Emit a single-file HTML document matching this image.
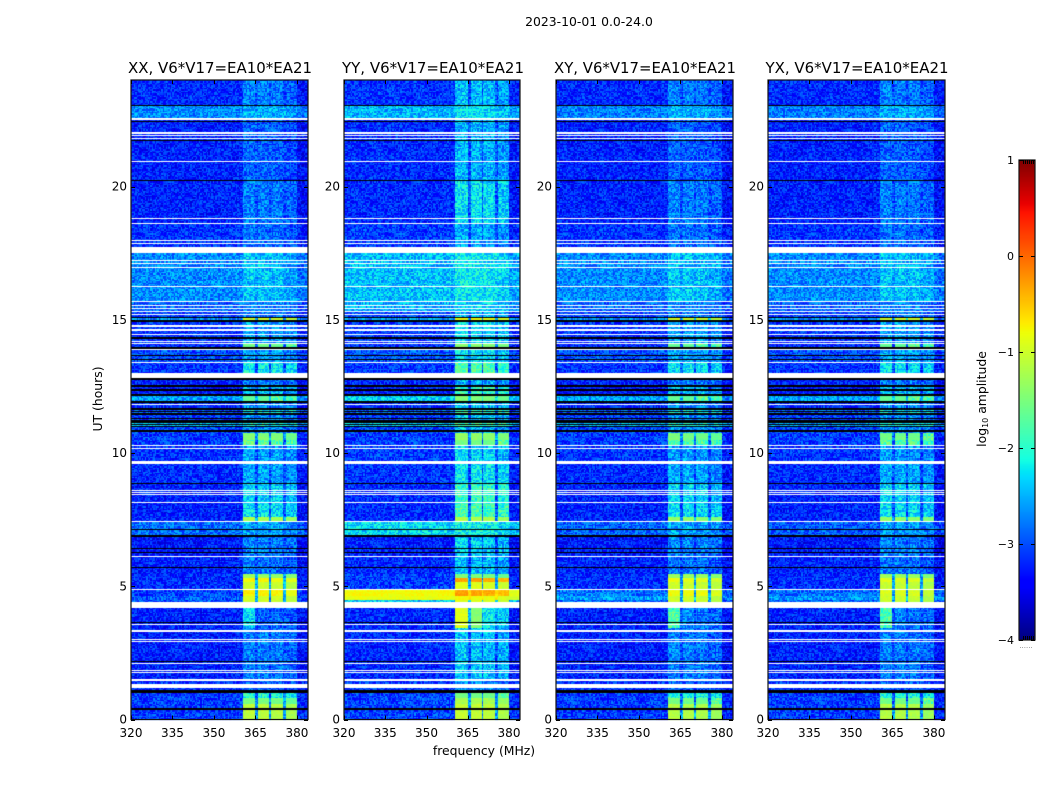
<!DOCTYPE html>
<html lang="en">
<head>
<meta charset="utf-8">
<title>2023-10-01 0.0-24.0</title>
<style>
html,body{margin:0;padding:0;background:#fff;width:1050px;height:800px;overflow:hidden}
#chart{position:relative;width:1050px;height:800px}
canvas{position:absolute;left:0;top:0}
svg{position:absolute;left:0;top:0}
text{font-family:"DejaVu Sans","Liberation Sans",sans-serif;fill:#000}
</style>
</head>
<body>
<div id="chart">
<canvas id="heat" width="1050" height="800"></canvas>
<svg id="overlay" width="1050" height="800" viewBox="0 0 1050 800">
  <text x="589" y="26" font-size="12.4" text-anchor="middle">2023-10-01 0.0-24.0</text>
  <text x="220" y="73" font-size="15.5" text-anchor="middle" textLength="184" lengthAdjust="spacingAndGlyphs">XX, V6*V17=EA10*EA21</text>
  <text x="433" y="73" font-size="15.5" text-anchor="middle" textLength="182" lengthAdjust="spacingAndGlyphs">YY, V6*V17=EA10*EA21</text>
  <text x="645" y="73" font-size="15.5" text-anchor="middle" textLength="182" lengthAdjust="spacingAndGlyphs">XY, V6*V17=EA10*EA21</text>
  <text x="857" y="73" font-size="15.5" text-anchor="middle" textLength="183" lengthAdjust="spacingAndGlyphs">YX, V6*V17=EA10*EA21</text>
  <text x="484" y="755" font-size="12.4" text-anchor="middle">frequency (MHz)</text>
  <text transform="translate(102,399) rotate(-90)" font-size="12.4" text-anchor="middle">UT (hours)</text>
  <text transform="translate(986,399) rotate(-90)" font-size="12.4" text-anchor="middle">log<tspan font-size="8" dy="2">10</tspan><tspan dy="-2"> amplitude</tspan></text>
  <text x="1026" y="648" font-size="7" text-anchor="middle" style="fill:#777">......</text>
</svg>
</div>
<script>
// Axis tick values and panel names
const panelNames = ['xx', 'yy', 'xy', 'yx'];
const freqTicks = [320, 335, 350, 365, 380];
const hourTicks = [0, 5, 10, 15, 20];
const colorbarTicks = [-4, -3, -2, -1, 0, 1];

// Observation limits and colour range
const freqRange = [320, 384];
const hourRange = [0, 24];
const amplitudeRange = [-4, 1];

// Spectral windows with signal, in MHz
const subbandStart = [360.7, 365.8, 370.7, 375.8];
const subbandEnd = [365.2, 370.1, 375.1, 380];
const subbandTilt = [0.05, 0.03, 0, -0.1];

// UT band edges in hours; each series below has one log10 amplitude per band
const bandEdges = [0,.62,.82,1.05,1.5,3.43,4.18,4.48,4.66,4.86,5.15,5.32,5.47,6.1,6.89,7.41,7.6,8.12,8.87,9.59,10.31,10.52,10.75,11.01,11.17,11.44,11.59,11.9,12.18,12.56,13,13.38,13.9,14.09,14.96,15.09,15.29,15.7,17.5,18.6,20.24,22.5,23.06,24];

const backgroundXX = [
-3.1,-3.1,-3.1,-3.15,-3.25,-3.25,-3.0,-2.95,-3.05,-3.2,
-3.2,-3.2,-3.25,-3.3,-2.85,-3.25,-3.25,-3.25,-3.2,-3.15,
-3.1,-3.1,-3.05,-2.5,-3.1,-2.95,-3.2,-2.6,-3.3,-3.25,
-3.15,-3.0,-3.2,-3.15,-2.7,-3.1,-2.9,-2.7,-3.15,-3.25,
-3.25,-2.7,-3.2];
const backgroundYY = [
-3.05,-3.05,-3.05,-3.1,-3.2,-3.2,-2.4,-0.85,-0.78,-3.1,
-3.1,-3.1,-3.2,-3.25,-2.3,-3.2,-3.2,-3.2,-3.15,-3.1,
-3.1,-3.1,-3.05,-2.4,-3.1,-2.9,-3.2,-2.35,-3.25,-3.2,
-3.1,-2.95,-3.15,-3.1,-2.6,-3.05,-2.55,-2.45,-3.1,-3.2,
-3.2,-2.5,-3.15];
const backgroundXY = [
-3.1,-3.1,-3.1,-3.15,-3.25,-3.25,-2.9,-2.6,-2.8,-3.2,
-3.2,-3.2,-3.25,-3.3,-2.9,-3.25,-3.25,-3.25,-3.2,-3.15,
-3.1,-3.1,-3.05,-2.5,-3.1,-2.95,-3.2,-2.6,-3.3,-3.25,
-3.15,-3.0,-3.2,-3.15,-2.7,-3.1,-2.9,-2.7,-3.15,-3.25,
-3.25,-2.75,-3.2];
const backgroundYX = [
-3.1,-3.1,-3.1,-3.15,-3.25,-3.25,-2.9,-2.65,-2.85,-3.2,
-3.2,-3.2,-3.25,-3.3,-2.95,-3.25,-3.25,-3.25,-3.2,-3.15,
-3.1,-3.1,-3.05,-2.6,-3.1,-2.95,-3.2,-2.6,-3.3,-3.25,
-3.15,-3.0,-3.2,-3.15,-2.7,-3.1,-2.9,-2.7,-3.15,-3.25,
-3.25,-2.75,-3.2];

const signalXX = [
-1.15,-1.55,-2.1,-2.95,-2.8,[-2.3,-2.9,-2.9,-2.95],-1.05,-1.0,-0.75,-1.05,
-0.8,-1.35,-2.85,-2.75,-2.6,-1.25,-2.3,-2.35,-2.6,-2.6,
-1.75,-1.5,-2.7,-2.1,-2.7,-2.2,-2.7,-1.7,-2.5,-2.8,
-2.2,-2.6,-1.6,-2.6,-1.0,-2.8,-2.75,-2.45,-2.85,-2.8,
-2.95,-2.55,-2.8];
const signalYY = [
-1.1,-1.25,-1.6,-2.7,-2.45,[-0.9,-1.45,-2.2,-2.4],-0.95,-0.85,-0.35,-0.95,
-0.35,-1.55,-2.5,-2.4,-2.2,-1.2,-1.85,-1.95,-2.25,-2.35,
-1.6,-1.4,-2.5,-1.8,-2.4,-1.9,-2.4,-1.5,-1.9,-2.55,
-1.8,-2.3,-1.45,-2.3,-0.85,-2.5,-2.4,-2.25,-2.6,-2.3,
-2.55,-2.3,-2.5];
const signalXY = [
-1.2,-1.6,-2.1,-2.95,-2.8,[-1.8,-2.7,-2.8,-2.9],-1.05,-1.05,-0.85,-1.05,
-0.9,-1.35,-2.85,-2.75,-2.6,-1.4,-2.3,-2.35,-2.6,-2.65,
-1.8,-1.55,-2.7,-2.1,-2.7,-2.2,-2.7,-1.7,-2.5,-2.8,
-2.3,-2.6,-1.7,-2.6,-1.0,-2.8,-2.75,-2.45,-2.85,-2.8,
-2.95,-2.55,-2.8];
const signalYX = [
-1.2,-1.6,-2.1,-2.95,-2.8,[-1.8,-2.7,-2.8,-2.9],-1.1,-1.05,-0.95,-1.1,
-0.95,-1.35,-2.85,-2.75,-2.65,-1.4,-2.3,-2.35,-2.6,-2.65,
-1.8,-1.6,-2.7,-2.15,-2.7,-2.25,-2.7,-1.7,-2.5,-2.8,
-2.3,-2.6,-1.7,-2.6,-1.0,-2.8,-2.75,-2.45,-2.85,-2.8,
-2.95,-2.55,-2.8];

// Flagged (no data) intervals drawn white: start hour, end hour
const flagStart = [1.18,1.44,1.74,1.82,2.08,2.89,2.98,3.28,3.55,4.2,4.86,6.1,7.41,8.12,8.42,8.5,8.58,9.59,10.15,10.26,11.8,12.81,13.38,13.86,14.09,14.17,14.43,14.58,14.73,15.18,15.29,15.4,15.52,15.67,16.23,16.94,17.09,17.2,17.5,17.84,17.95,18.59,18.78,20.92,21.78,21.89,21.99,22.5];
const flagEnd = [1.33,1.52,1.78,1.86,2.12,2.93,3.02,3.36,3.59,4.42,4.9,6.14,7.45,8.16,8.46,8.54,8.62,9.7,10.19,10.3,11.84,13.0,13.42,13.9,14.13,14.21,14.47,14.65,14.8,15.22,15.33,15.44,15.56,15.71,16.27,16.98,17.13,17.24,17.73,17.88,17.99,18.63,18.82,20.96,21.82,21.93,22.03,22.57];

// Zero-amplitude UT records drawn black, centre hour
const zeroHours = [1.09,1.12,2.21,3.67,5.71,6.27,6.45,7.14,8.87,10.31,11.01,11.09,11.17,11.3,11.59,13.53,13.69,13.9,15.09,20.24,21.74,22.47,23.06];
// Wider zero-amplitude records, centre hour
const wideZeroHours = [0.38,1.05,6.89,10.81,11.22,11.46,11.65,11.91,12.16,12.36,12.53,12.78,13.94,14.32,14.95];

// Hand-typed speckle offsets: these stand in for per-cell receiver noise, which is not readable cell by cell
const speckle = [.31,-.22,.08,-.35,.17,.39,-.12,-.28,.24,-.05,.34,-.38,.11,.02,-.19,.28,-.31,.15,-.08,.36,-.26,.05,.21,-.37,.13,-.15,.33,-.03,-.29,.19,.38,-.24,.07,-.33,.26,-.1,.14,-.36,.3,.01,-.21,.23,-.39,.09,.35,-.17,-.27,.18,.04,-.32,.27,-.07,.37,-.2,.12,-.34,.22,-.13,.29,-.25,.06];

// Matplotlib "jet" colormap anchors
const jetRedAt = [0,.35,.66,.89,1];
const jetRedValue = [0,0,1,1,.5];
const jetGreenAt = [0,.125,.375,.64,.91,1];
const jetGreenValue = [0,0,1,1,0,0];
const jetBlueAt = [0,.11,.34,.65,1];
const jetBlueValue = [.5,1,1,0,0];

const panelLeft = [131, 344, 556, 768];
const panelRight = [308, 520, 733, 945];
const plotTop = 80, plotBottom = 719.5;
const barLeft = 1019, barRight = 1035, barTop = 160, barBottom = 640;
const backgrounds = [backgroundXX, backgroundYY, backgroundXY, backgroundYX];
const signals = [signalXX, signalYY, signalXY, signalYX];

function xScale(p, f) { return panelLeft[p] + (f - freqRange[0]) * (panelRight[p] - panelLeft[p]) / (freqRange[1] - freqRange[0]); }
function yScale(h) { return plotBottom - (h - hourRange[0]) * (plotBottom - plotTop) / (hourRange[1] - hourRange[0]); }
function barScale(v) { return barBottom - (v - amplitudeRange[0]) * (barBottom - barTop) / (amplitudeRange[1] - amplitudeRange[0]); }

function lerp(xs, ys, x) {
  for (let i = 1; i < xs.length; i++) {
    if (x <= xs[i]) return ys[i-1] + (ys[i] - ys[i-1]) * (x - xs[i-1]) / (xs[i] - xs[i-1]);
  }
  return ys[ys.length - 1];
}
function jet(v) {
  const t = Math.max(0, Math.min(1, (v - amplitudeRange[0]) / (amplitudeRange[1] - amplitudeRange[0])));
  const r = Math.round(255 * lerp(jetRedAt, jetRedValue, t));
  const g = Math.round(255 * lerp(jetGreenAt, jetGreenValue, t));
  const b = Math.round(255 * lerp(jetBlueAt, jetBlueValue, t));
  return 'rgb(' + r + ',' + g + ',' + b + ')';
}
function bandAt(h) {
  for (let b = 0; b < bandEdges.length - 1; b++) { if (h < bandEdges[b + 1]) return b; }
  return bandEdges.length - 2;
}
function subbandAt(f) {
  for (let s = 0; s < subbandStart.length; s++) { if (f >= subbandStart[s] && f <= subbandEnd[s]) return s; }
  return -1;
}
function cellValue(p, h, f) {
  const b = bandAt(h);
  const bg = backgrounds[p][b];
  const sig = signals[p][b];
  if (f > subbandEnd[3]) return bg - 0.12;
  if (f < subbandStart[0]) return bg;
  const s = subbandAt(f);
  const level = Array.isArray(sig) ? sig[0] : sig;
  if (s < 0) return Math.max(bg + 0.15, level > -1.6 ? -2.6 : -3.0);
  return Array.isArray(sig) ? sig[s] : sig + subbandTilt[s];
}

const ctx = document.getElementById('heat').getContext('2d');
ctx.fillStyle = '#fff';
ctx.fillRect(0, 0, 1050, 800);

const cellFreq = 0.5, cellHour = 0.05;
function drawPanel(p) {
  const rows = Math.round((hourRange[1] - hourRange[0]) / cellHour);
  const cols = Math.round((freqRange[1] - freqRange[0]) / cellFreq);
  for (let r = 0; r < rows; r++) {
    const h0 = hourRange[0] + r * cellHour;
    const y0 = Math.round(yScale(h0 + cellHour));
    const y1 = Math.round(yScale(h0));
    for (let c = 0; c < cols; c++) {
      const f0 = freqRange[0] + c * cellFreq;
      const x0 = Math.round(xScale(p, f0));
      const x1 = Math.round(xScale(p, f0 + cellFreq));
      const base = cellValue(p, h0 + cellHour / 2, f0 + cellFreq / 2);
      const grain = speckle[(r * 37 + c * 11 + ((r * c) % 13) + p * 19) % speckle.length];
      const v = base + grain * (base > -1.7 ? 0.25 : 1);
      ctx.fillStyle = jet(v);
      ctx.fillRect(x0, y0, x1 - x0, y1 - y0);
    }
  }
  ctx.fillStyle = '#000';
  zeroHours.forEach(function (h) {
    ctx.fillRect(panelLeft[p], Math.round(yScale(h)), panelRight[p] - panelLeft[p], 1);
  });
  wideZeroHours.forEach(function (h) {
    ctx.fillRect(panelLeft[p], Math.round(yScale(h)) - 1, panelRight[p] - panelLeft[p], 2);
  });
  ctx.fillStyle = '#fff';
  flagStart.forEach(function (s, i) {
    const top = Math.round(yScale(flagEnd[i]));
    const bottom = Math.round(yScale(s));
    ctx.fillRect(panelLeft[p], top, panelRight[p] - panelLeft[p], Math.max(1, bottom - top));
  });
}
panelNames.forEach(function (n, p) { drawPanel(p); });

// Colour bar
for (let y = barTop; y < barBottom; y++) {
  const v = amplitudeRange[1] - (y + 0.5 - barTop) * (amplitudeRange[1] - amplitudeRange[0]) / (barBottom - barTop);
  ctx.fillStyle = jet(v);
  ctx.fillRect(barLeft, y, barRight - barLeft, 1);
}

const svg = document.getElementById('overlay');
const NS = 'http://www.w3.org/2000/svg';
function addLine(parent, x1, y1, x2, y2, name) {
  const l = document.createElementNS(NS, 'line');
  l.setAttribute('x1', x1);
  l.setAttribute('y1', y1);
  l.setAttribute('x2', x2);
  l.setAttribute('y2', y2);
  l.setAttribute('stroke', '#000');
  l.setAttribute('stroke-width', '1');
  
  
  parent.appendChild(l);
}
function addLabel(parent, x, y, str, anchor, size, name) {
  const t = document.createElementNS(NS, 'text');
  t.setAttribute('x', x);
  t.setAttribute('y', y);
  t.setAttribute('text-anchor', anchor);
  t.setAttribute('font-size', size);
  
  
  t.textContent = str;
  parent.appendChild(t);
}
panelNames.forEach(function (n, p) {
  const g = document.createElementNS(NS, 'g');
  
  
  svg.appendChild(g);
  const L = panelLeft[p], R = panelRight[p];
  const frame = document.createElementNS(NS, 'rect');
  frame.setAttribute('x', L);
  frame.setAttribute('y', 80);
  frame.setAttribute('width', R - L);
  frame.setAttribute('height', 639.5);
  frame.setAttribute('fill', 'none');
  frame.setAttribute('stroke', '#111');
  frame.setAttribute('stroke-width', '1.2');
  
  
  g.appendChild(frame);
  freqTicks.forEach(function (f) {
    const x = Math.round(xScale(p, f)) + 0.5;
    addLine(g, x, plotBottom, x, plotBottom - 4, 'x-tick');
    addLine(g, x, plotTop, x, plotTop + 4, 'x-tick-top');
    addLabel(g, xScale(p, f), 737, String(f), 'middle', 12, 'x-tick-label');
  });
  hourTicks.forEach(function (h) {
    const y = Math.round(yScale(h)) + 0.5;
    addLine(g, L, y, L + 4, y, 'y-tick');
    addLine(g, R, y, R - 4, y, 'y-tick-right');
    addLabel(g, L - 4, yScale(h) + 4, String(h), 'end', 12, 'y-tick-label');
  });
});

// Colour bar frame, ticks, labels
const cg = document.createElementNS(NS, 'g');


svg.appendChild(cg);
const cf = document.createElementNS(NS, 'rect');
cf.setAttribute('x', barLeft);
cf.setAttribute('y', barTop);
cf.setAttribute('width', barRight - barLeft);
cf.setAttribute('height', barBottom - barTop);
cf.setAttribute('fill', 'none');
cf.setAttribute('stroke', '#111');
cf.setAttribute('stroke-width', '1.2');


cg.appendChild(cf);
colorbarTicks.forEach(function (v) {
  const y = Math.round(barScale(v)) + 0.5;
  addLine(cg, barLeft, y, barLeft + 4, y, 'colorbar-tick');
  addLine(cg, barRight, y, barRight - 4, y, 'colorbar-tick-right');
  addLabel(cg, barLeft - 5, barScale(v) + 4, String(v).replace('-', '\u2212'), 'end', 11, 'colorbar-tick-label');
});
for (let x = barLeft + 4; x < barRight - 1; x += 2) {
  addLine(cg, x + 0.5, barTop, x + 0.5, barTop + 4, 'colorbar-edge-tick');
  addLine(cg, x + 0.5, barBottom, x + 0.5, barBottom - 4, 'colorbar-edge-tick');
}
</script>
</body>
</html>
